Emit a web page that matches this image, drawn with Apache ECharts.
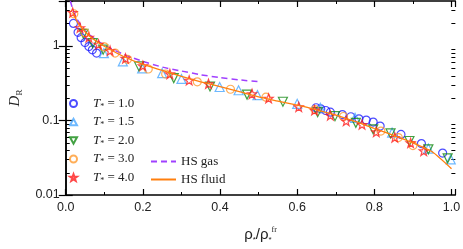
<!DOCTYPE html>
<html>
<head>
<meta charset="utf-8">
<script src="https://cdn.jsdelivr.net/npm/echarts@6/dist/echarts.min.js"></script>
<style>html,body{margin:0;padding:0;background:#fff}#c{width:463px;height:249px}</style>
</head>
<body>
<div id="c"></div>
<script>
// ---- data ----
const t10X = [0.020,0.032,0.040,0.050,0.060,0.069,0.080,0.649,0.661,0.674,0.686,0.717,0.739,0.760,0.779,0.797,0.815,0.869,0.922,0.977];
const t10Y = [2.0,1.52,1.29,1.11,0.98,0.885,0.80,0.148,0.143,0.136,0.129,0.120,0.112,0.105,0.101,0.095,0.084,0.065,0.049,0.0365];

const t15X = [0.099,0.148,0.198,0.25,0.30,0.399,0.448,0.497,0.60,0.66,0.75,0.846,0.94,0.998];
const t15Y = [0.80,0.62,0.50,0.43,0.36,0.281,0.254,0.218,0.167,0.148,0.108,0.0686,0.042,0.030];

const t20X = [0.046,0.07,0.097,0.19,0.28,0.374,0.47,0.563,0.653,0.698,0.752,0.797,0.842,0.891,0.94,0.99];
const t20Y = [1.45,1.09,0.89,0.53,0.37,0.285,0.222,0.178,0.129,0.114,0.093,0.076,0.067,0.053,0.041,0.031];

const t30X = [0.021,0.05,0.1,0.128,0.16,0.214,0.259,0.341,0.427,0.519,0.646,0.72,0.817,0.862,0.9];
const t30Y = [2.7,1.5,0.97,0.8,0.66,0.49,0.42,0.33,0.262,0.205,0.14,0.113,0.072,0.059,0.046];

const t40X = [0.018,0.037,0.06,0.085,0.115,0.155,0.2,0.27,0.32,0.37,0.483,0.526,0.604,0.645,0.686,0.727,0.768,0.805,0.853,0.894,0.928];
const t40Y = [2.8,1.75,1.3,1.05,0.86,0.68,0.54,0.42,0.345,0.31,0.227,0.198,0.152,0.137,0.117,0.098,0.088,0.07,0.059,0.05,0.039];

const gasX = [0.012,0.02,0.03,0.05,0.075,0.1,0.15,0.2,0.25,0.3,0.35,0.4,0.45,0.5];
const gasY = [4.0,2.9,2.25,1.6,1.24,1.02,0.77,0.62,0.52,0.46,0.41,0.375,0.35,0.331];

const fluidX = [0.018,0.03,0.04,0.06,0.08,0.1,0.15,0.2,0.25,0.3,0.35,0.4,0.45,0.5,0.55,0.6,0.65,0.7,0.75,0.8,0.85,0.9,0.95,1.0];
const fluidY = [2.85,2.1,1.78,1.38,1.15,0.99,0.72,0.565,0.47,0.39,0.33,0.284,0.243,0.207,0.182,0.16,0.139,0.118,0.097,0.078,0.063,0.05,0.038,0.0225];

const seriesNames = ['T* = 1.0','T* = 1.5','T* = 2.0','T* = 3.0','T* = 4.0'];
const lineNames = ['HS gas','HS fluid'];
const yMinorTicks = [0.02,0.03,0.04,0.05,0.06,0.07,0.08,0.09,0.2,0.3,0.4,0.5,0.6,0.7,0.8,0.9,2,3];

const X_MIN = 0, X_MAX = 1.01, Y_MIN = 0.01, Y_MAX = 4;

const SANS = '"Liberation Sans", Arial, sans-serif';
const SERIF = '"Liberation Serif", "Times New Roman", serif';

const zip = (xs, ys) => xs.map((x, i) => [x, ys[i]]);

const STAR = 'path://M0,-10L2.35,-3.24L9.51,-3.09L3.8,1.24L5.88,8.09L0,4L-5.88,8.09L-3.8,1.24L-9.51,-3.09L-2.35,-3.24Z';
const DOWN = 'path://M-5,-4L5,-4L0,5Z';
const UP = 'path://M-5,4L5,4L0,-5Z';

function scat(name, xs, ys, symbol, color, size) {
  return {
    name, type: 'scatter', data: zip(xs, ys), symbol, symbolSize: size,
    itemStyle: { color: 'rgba(0,0,0,0)', borderColor: color, borderWidth: 1.2 },
    z: 3
  };
}

const chart = echarts.init(document.getElementById('c'), null, { renderer: 'canvas' });

const axisCommon = {
  axisLine: { lineStyle: { color: '#000', width: 1.5 } },
  splitLine: { show: false }
};

const option = {
  animation: false,
  backgroundColor: '#fff',
  grid: { left: 46, right: 7, top: 1, bottom: 53, containLabel: false },
  xAxis: [
    Object.assign({}, axisCommon, {
      type: 'value', min: X_MIN, max: X_MAX, interval: 0.2, position: 'bottom',
      axisTick: { inside: true, length: 6, lineStyle: { color: '#000', width: 1.2 } },
      minorTick: { show: true, splitNumber: 2, length: 3, lineStyle: { color: '#000', width: 1 } },
      minorSplitLine: { show: false },
      axisLabel: {
        formatter: v => (v > 1.001 ? '' : v.toFixed(1)),
        fontSize: 12.5, color: '#222', margin: 6, fontFamily: SANS
      },
      name: '{a|ρ}{s|*}{a|/ρ}{s|*}{p|fr}',
      nameLocation: 'middle', nameGap: 31,
      nameTextStyle: {
        rich: {
          a: { fontSize: 15, fontFamily: SANS, color: '#222', lineHeight: 18 },
          s: { fontSize: 8, fontFamily: SANS, color: '#222', lineHeight: 10, verticalAlign: 'bottom' },
          p: { fontSize: 8, fontFamily: SERIF, color: '#222', lineHeight: 10, verticalAlign: 'top' }
        }
      }
    }),
    Object.assign({}, axisCommon, {
      type: 'value', min: X_MIN, max: X_MAX, interval: 0.2, position: 'top',
      axisTick: { inside: true, length: 6, lineStyle: { color: '#000', width: 1.2 } },
      minorTick: { show: true, splitNumber: 2, length: 3, lineStyle: { color: '#000', width: 1 } },
      minorSplitLine: { show: false },
      axisLabel: { show: false }
    })
  ],
  yAxis: [
    Object.assign({}, axisCommon, {
      type: 'log', logBase: 10, min: Y_MIN, max: Y_MAX, position: 'left',
      axisTick: { inside: true, length: 7, lineStyle: { color: '#000', width: 1.2 } },
      axisLabel: {
        formatter: v => (v > 1.5 ? '' : String(+(+v).toPrecision(3))),
        fontSize: 12.5, color: '#222', margin: 6, fontFamily: SANS
      },
      name: '{d|D}{r|R}',
      nameLocation: 'middle', nameRotate: 90, nameGap: 27,
      nameTextStyle: {
        rich: {
          d: { fontSize: 15, fontFamily: SERIF, fontStyle: 'italic', color: '#222', lineHeight: 18 },
          r: { fontSize: 9, fontFamily: SERIF, color: '#222', lineHeight: 10, verticalAlign: 'bottom' }
        }
      }
    }),
    Object.assign({}, axisCommon, {
      type: 'log', logBase: 10, min: Y_MIN, max: Y_MAX, position: 'right',
      axisTick: { inside: true, length: 7, lineStyle: { color: '#000', width: 1.2 } },
      axisLabel: { show: false }
    })
  ],
  legend: [
    {
      data: seriesNames, orient: 'vertical', left: 69, top: 97, padding: 0,
      itemWidth: 7, itemHeight: 7, itemGap: 5,
      formatter: n => '{g|}{i|T}{s|*}{n|' + n.slice(2) + '}',
      textStyle: {
        rich: {
          g: { width: 11, lineHeight: 14 },
          i: { fontSize: 13, fontFamily: SERIF, fontStyle: 'italic', color: '#222', lineHeight: 14 },
          s: { fontSize: 8, fontFamily: SERIF, color: '#222', lineHeight: 8, verticalAlign: 'bottom' },
          n: { fontSize: 13, fontFamily: SERIF, color: '#222', lineHeight: 14 }
        }
      }
    },
    {
      data: lineNames, orient: 'vertical', left: 150, top: 155, padding: 0,
      itemWidth: 25, itemHeight: 14, itemGap: 5,
      textStyle: { fontSize: 13, fontFamily: SERIF, color: '#222' }
    }
  ],
  series: [
    {
      type: 'custom', silent: true, xAxisIndex: 0, yAxisIndex: 0, clip: false,
      data: yMinorTicks.map(v => [X_MIN, v]),
      renderItem: (params, api) => {
        const v = api.value(1);
        const l = api.coord([X_MIN, v]);
        const r = api.coord([X_MAX, v]);
        const y = Math.round(l[1]) + 0.5;
        const st = { stroke: '#000', lineWidth: 1 };
        return {
          type: 'group', children: [
            { type: 'line', shape: { x1: l[0], y1: y, x2: l[0] + 4, y2: y }, style: st },
            { type: 'line', shape: { x1: r[0] - 4, y1: y, x2: r[0], y2: y }, style: st }
          ]
        };
      },
      z: 1
    },
    {
      name: 'HS gas', type: 'line', data: zip(gasX, gasY), symbol: 'none', smooth: 0.2,
      lineStyle: { color: '#a040ff', width: 1.5, type: [6, 4] }, itemStyle: { color: 'rgba(0,0,0,0)' }, z: 2
    },
    {
      name: 'HS fluid', type: 'line', data: zip(fluidX, fluidY), symbol: 'none', smooth: 0.2,
      lineStyle: { color: '#ff7f0e', width: 1.3 }, itemStyle: { color: 'rgba(0,0,0,0)' }, z: 4
    },
    scat(seriesNames[0], t10X, t10Y, 'circle', '#1f1fff', 8),
    scat(seriesNames[1], t15X, t15Y, UP, '#4aa8ff', 9),
    scat(seriesNames[2], t20X, t20Y, DOWN, '#138a13', 9),
    scat(seriesNames[3], t30X, t30Y, 'circle', '#ff9a2e', 8),
    scat(seriesNames[4], t40X, t40Y, STAR, '#ff1a1a', 9)
  ]
};
chart.setOption(option);
</script>
</body>
</html>
